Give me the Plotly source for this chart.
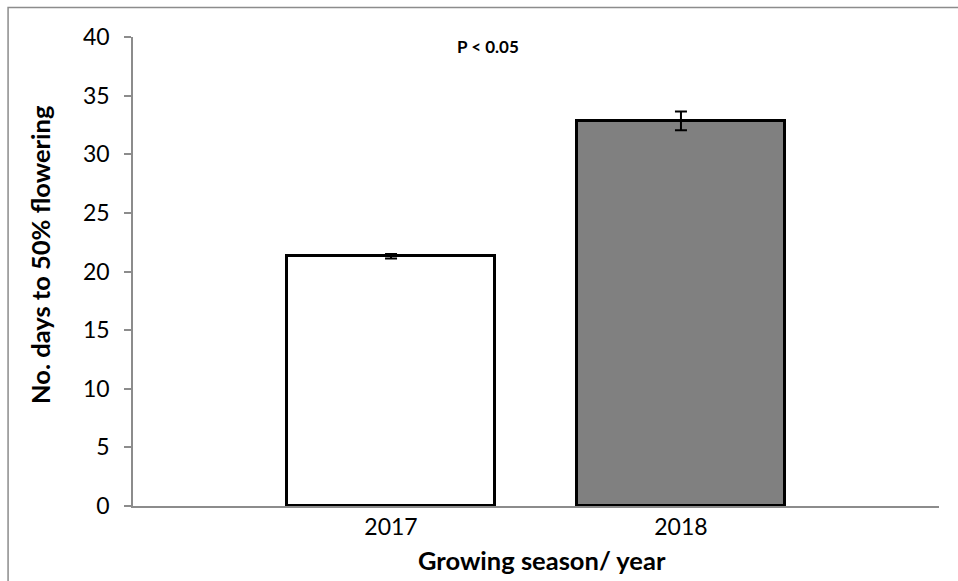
import plotly.graph_objects as go

# Days to 50% flowering per growing season
seasons = ["2017", "2018"]
days = [21.3, 32.85]
errors = [0.2, 0.8]
fills = ["#ffffff", "#808080"]
y_ticks = [0, 5, 10, 15, 20, 25, 30, 35, 40]

FONT = "Lato, Carlito, Calibri, sans-serif"

fig = go.Figure()
fig.add_trace(go.Bar(
    x=seasons,
    y=days,
    width=0.72,
    marker=dict(color=fills, line=dict(color="#000000", width=3)),
    error_y=dict(type="data", array=errors, visible=True,
                 color="#000000", thickness=2, width=6),
    showlegend=False,
))

fig.update_layout(
    width=958, height=581,
    margin=dict(l=133, r=19, t=37, b=75),
    paper_bgcolor="white", plot_bgcolor="white",
    font=dict(family=FONT, size=23, color="#000000"),
    bargap=0,
    xaxis=dict(
        type="category", range=[-0.89, 1.89],
        showline=True, linecolor="#8c8c8c", linewidth=1.5,
        ticks="", showgrid=False, zeroline=False,
        tickfont=dict(size=23), ticklabelstandoff=0,
    ),
    yaxis=dict(
        range=[0, 40], tickvals=y_ticks,
        showline=True, linecolor="#8c8c8c", linewidth=1.5,
        ticks="outside", ticklen=7, tickcolor="#8c8c8c", tickwidth=1.5,
        showgrid=False, zeroline=False,
        tickfont=dict(size=23), ticklabelstandoff=10,
    ),
    shapes=[dict(
        type="rect", xref="paper", yref="paper",
        x0=-0.155, x1=1.2, y0=-0.3, y1=1.063,
        line=dict(color="#8c8c8c", width=1.5), fillcolor="rgba(0,0,0,0)",
        layer="below",
    )],
    annotations=[
        dict(text="<b>P < 0.05</b>", xref="paper", yref="paper",
             x=(488 - 133) / 806, y=(506 - 46) / 469,
             showarrow=False, font=dict(size=17), xanchor="center", yanchor="middle"),
        dict(text="<b>Growing season/ year</b>", xref="paper", yref="paper",
             x=(542 - 133) / 806, y=(506 - 560) / 469,
             showarrow=False, font=dict(size=25.5), xanchor="center", yanchor="middle"),
        dict(text="<b>No. days to 50% flowering</b>", xref="paper", yref="paper",
             x=(40 - 133) / 806, y=(506 - 255) / 469, textangle=-90,
             showarrow=False, font=dict(size=25.5), xanchor="center", yanchor="middle"),
    ],
)

fig.write_html("out.html")
